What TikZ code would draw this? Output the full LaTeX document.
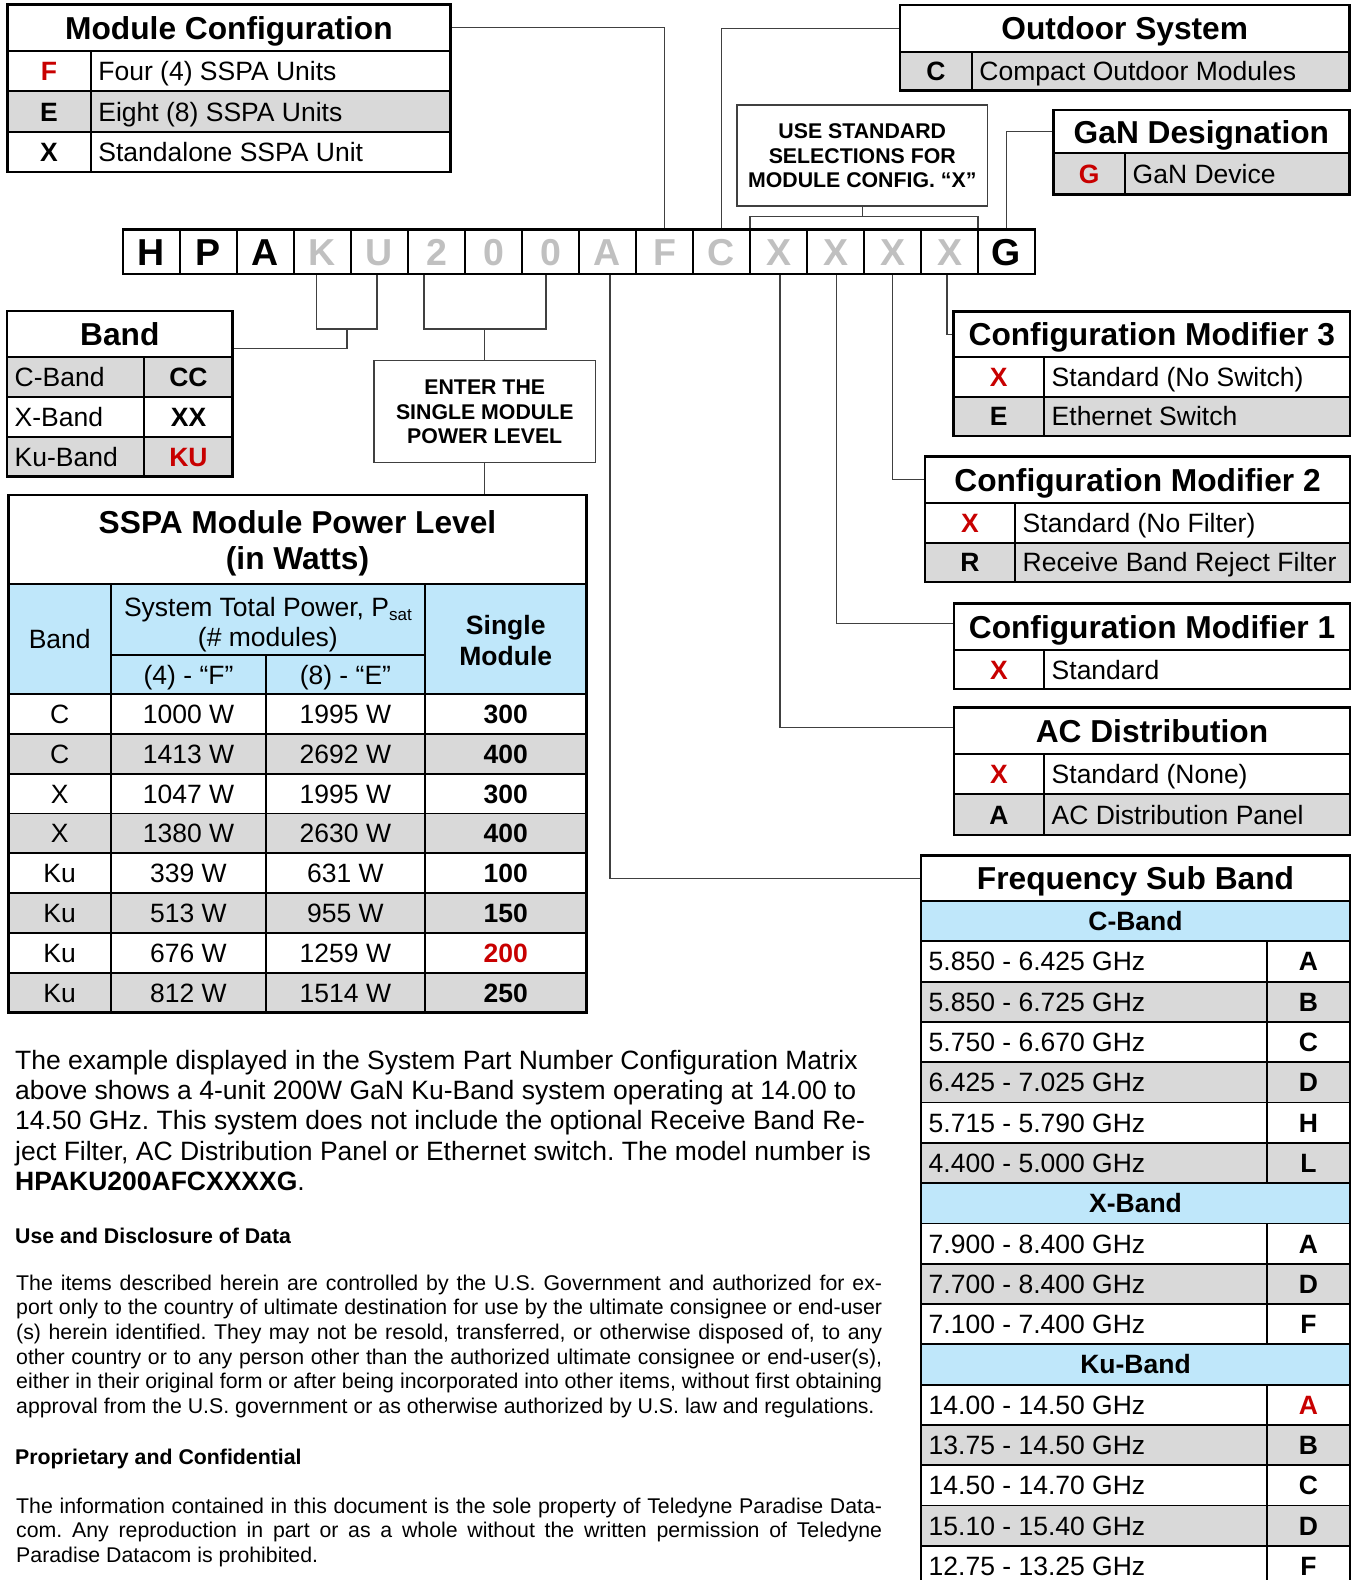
\documentclass[tikz,border=0pt]{standalone}
\usepackage{fontspec}
\setmainfont{Liberation Sans}
\usetikzlibrary{calc}
\pgfdeclarelayer{bg}
\pgfsetlayers{bg,main}
\frenchspacing
\definecolor{gr}{RGB}{217,217,217}
\definecolor{bl}{RGB}{191,231,250}
\definecolor{rd}{RGB}{200,0,0}
\definecolor{cg}{RGB}{192,192,192}
\definecolor{ln}{RGB}{64,64,64}
% cell: name, x1, y1, x2, y2, options, text
\newcommand\cellc[7]{\node[tcell,#6,minimum width={(#4)-(#2)},minimum height={(#5)-(#3)}] (#1) at ({((#2)+(#4))/2},{((#3)+(#5))/2}) {#7};}
\newcommand\ltxt[3]{\node[bdy,anchor=west] (#1) at ([xshift=7.5pt]#2.west) {#3};}
% two-column row: name, x1, xc, x2, y1, y2, fill, code, description
\newcommand\trow[9]{\cellc{#1a}{#2}{#5}{#3}{#6}{fill=#7,bd}{#8}\cellc{#1b}{#3}{#5}{#4}{#6}{fill=#7}{}\ltxt{#1t}{#1b}{#9}}
% band row: name, y1, y2, fill, band, code
\newcommand\brow[6]{\cellc{#1a}{7}{#2}{144.3}{#3}{fill=#4}{}\ltxt{#1t}{#1a}{#5}\cellc{#1b}{144.3}{#2}{232.7}{#3}{fill=#4,bd}{#6}}
% frequency rows
\newcommand\fhdr[2]{\pgfmathsetmacro\ya{901+40.3*(#1-1)}\pgfmathsetmacro\yb{\ya+40.3}\cellc{fh#1}{921}{\ya}{1350}{\yb}{fill=bl,bd}{#2}}
\newcommand\frow[4]{\pgfmathsetmacro\ya{901+40.3*(#1-1)}\pgfmathsetmacro\yb{\ya+40.3}\cellc{f#1a}{921}{\ya}{1266.7}{\yb}{fill=#4}{}\ltxt{f#1t}{f#1a}{#2}\cellc{f#1b}{1266.7}{\ya}{1350}{\yb}{fill=#4,bd}{#3}}
\begin{document}
\begin{tikzpicture}[x=1pt,y=-1pt,
 tcell/.style={draw=black,line width=1.8pt,inner sep=0pt,outer sep=0pt,font=\fontsize{26.5}{30}\selectfont,text height=19pt,text depth=0pt},
 ttl/.style={font=\bfseries\fontsize{31.7}{36}\selectfont,text height=22.7pt,text depth=0pt},
 bdy/.style={font=\fontsize{26.5}{30}\selectfont,text height=19pt,text depth=0pt,inner sep=0pt},
 bd/.style={font=\bfseries\fontsize{26.5}{30}\selectfont,text height=19pt,text depth=0pt},
 sml/.style={font=\bfseries\fontsize{21.3}{24}\selectfont,text height=15.25pt,text depth=0pt,inner sep=0pt},
 pncell/.style={draw=black,line width=2.2pt,minimum width=57pt,minimum height=44.7pt,inner sep=0pt,outer sep=0pt,font=\bfseries\fontsize{37.5}{40}\selectfont,text height=26.85pt,text depth=0pt},
 tblout/.style={draw=black,line width=2.8pt},
 conn/.style={draw=ln,line width=1.3pt},
 notebox/.style={draw=ln,line width=1.5pt,fill=white,inner sep=0pt,outer sep=0pt}]
\useasboundingbox (0,0) rectangle (1353,1580);
\clip (0,0) rectangle (1353,1580);
\begin{pgfonlayer}{bg}
\fill[white] (0,0) rectangle (1353,1580);
\end{pgfonlayer}

% ---------- Module Configuration
\cellc{mcT}{7.3}{4.7}{450.6}{50.7}{fill=white,ttl}{Module Configuration}
\trow{mc1}{7.3}{90.7}{450.6}{50.7}{91.3}{white}{\textcolor{rd}{F}}{Four (4) SSPA Units}
\trow{mc2}{7.3}{90.7}{450.6}{91.3}{131.7}{gr}{E}{Eight (8) SSPA Units}
\trow{mc3}{7.3}{90.7}{450.6}{131.7}{172}{white}{X}{Standalone SSPA Unit}
\draw[tblout] (mcT.north west) rectangle (mc3b.south east);

% ---------- Outdoor System
\cellc{osT}{900}{5}{1349.5}{51.7}{fill=white,ttl}{Outdoor System}
\trow{os1}{900}{971.7}{1349.5}{51.7}{90.5}{gr}{C}{Compact Outdoor Modules}
\draw[tblout] (osT.north west) rectangle (os1b.south east);

% ---------- GaN Designation
\cellc{ganT}{1053.3}{110}{1349.5}{153.3}{fill=white,ttl}{GaN Designation}
\trow{gan1}{1053.3}{1125}{1349.5}{153.3}{194.3}{gr}{\textcolor{rd}{G}}{GaN Device}
\draw[tblout] (ganT.north west) rectangle (gan1b.south east);

% ---------- Note: use standard selections
\node[notebox,minimum width=250.5pt,minimum height=101pt] (use) at (862.25,155.5) {};
\node[sml] (use1) at (862.25,131) {USE STANDARD};
\node[sml] (use2) at (862.25,155.5) {SELECTIONS FOR};
\node[sml] (use3) at (862.25,180) {MODULE CONFIG. “X”};

% ---------- Part number row
\foreach \ch/\cl [count=\i] in {H/black,P/black,A/black,K/cg,U/cg,2/cg,0/cg,0/cg,A/cg,F/cg,C/cg,X/cg,X/cg,X/cg,X/cg,G/black}
  \node[pncell,text=\cl] (c\i) at ({151.5+57*(\i-1)},251.65) {\ch};
\draw[tblout] (c1.north west) rectangle (c16.south east);

% ---------- Band
\cellc{bT}{7}{311}{232.7}{356.7}{fill=white,ttl}{Band}
\brow{b1}{356.7}{396.7}{gr}{C-Band}{CC}
\brow{b2}{396.7}{436.7}{white}{X-Band}{XX}
\brow{b3}{436.7}{476.7}{gr}{Ku-Band}{\textcolor{rd}{KU}}
\draw[tblout] (bT.north west) rectangle (b3b.south east);

% ---------- Note: enter power level
\node[notebox,minimum width=221.5pt,minimum height=102pt] (enter) at (484.75,411.7) {};
\node[sml] (ent1) at (484.75,387.2) {ENTER THE};
\node[sml] (ent2) at (484.75,411.7) {SINGLE MODULE};
\node[sml] (ent3) at (484.75,436.2) {POWER LEVEL};

% ---------- SSPA Module Power Level
\cellc{spT}{8.4}{495}{586.7}{584}{fill=white}{}
\node[ttl,inner sep=0pt] (spT1) at (297.5,522) {SSPA Module Power Level};
\node[ttl,inner sep=0pt] (spT2) at (297.5,558.5) {(in Watts)};
\cellc{spHb}{8.4}{584}{111}{694}{fill=bl}{Band}
\cellc{spHs}{111}{584}{424.8}{655}{fill=bl}{}
\node[bdy] (spHs1) at (267.9,607) {System Total Power, P\raisebox{-4pt}{\fontsize{17}{17}\selectfont sat}};
\node[bdy] (spHs2) at (267.9,637) {(\# modules)};
\cellc{spH4}{111}{655}{266}{694}{fill=bl}{(4) - “F”}
\cellc{spH8}{266}{655}{424.8}{694}{fill=bl}{(8) - “E”}
\cellc{spHm}{424.8}{584}{586.7}{694}{fill=bl}{}
\node[bd,inner sep=0pt] (spHm1) at (505.75,625) {Single};
\node[bd,inner sep=0pt] (spHm2) at (505.75,656) {Module};
\foreach \bb/\pp/\qq/\sm/\fc [count=\i] in {C/1000 W/1995 W/300/white,C/1413 W/2692 W/400/gr,X/1047 W/1995 W/300/white,X/1380 W/2630 W/400/gr,Ku/339 W/631 W/100/white,Ku/513 W/955 W/150/gr,Ku/676 W/1259 W/\textcolor{rd}{200}/white,Ku/812 W/1514 W/250/gr}{
  \pgfmathsetmacro\ya{694+39.8*(\i-1)}\pgfmathsetmacro\yb{\ya+39.8}
  \cellc{sa\i}{8.4}{\ya}{111}{\yb}{fill=\fc}{\bb}
  \cellc{sb\i}{111}{\ya}{266}{\yb}{fill=\fc}{\pp}
  \cellc{sc\i}{266}{\ya}{424.8}{\yb}{fill=\fc}{\qq}
  \cellc{sd\i}{424.8}{\ya}{586.7}{\yb}{fill=\fc,bd}{\sm}
}
\draw[tblout] (spT.north west) rectangle (sd8.south east);

% ---------- Configuration Modifier 3
\cellc{cmcT}{953.5}{311.7}{1350}{356.7}{fill=white,ttl}{Configuration Modifier 3}
\trow{cmc1}{953.5}{1044}{1350}{356.7}{396.7}{white}{\textcolor{rd}{X}}{Standard (No Switch)}
\trow{cmc2}{953.5}{1044}{1350}{396.7}{436}{gr}{E}{Ethernet Switch}
\draw[tblout] (cmcT.north west) rectangle (cmc2b.south east);

% ---------- Configuration Modifier 2
\cellc{cmbT}{925}{456.7}{1350}{502.7}{fill=white,ttl}{Configuration Modifier 2}
\trow{cmb1}{925}{1015}{1350}{502.7}{542.7}{white}{\textcolor{rd}{X}}{Standard (No Filter)}
\trow{cmb2}{925}{1015}{1350}{542.7}{582}{gr}{R}{Receive Band Reject Filter}
\draw[tblout] (cmbT.north west) rectangle (cmb2b.south east);

% ---------- Configuration Modifier 1
\cellc{cmaT}{954}{603.3}{1350}{650}{fill=white,ttl}{Configuration Modifier 1}
\trow{cma1}{954}{1044}{1350}{650}{689}{white}{\textcolor{rd}{X}}{Standard}
\draw[tblout] (cmaT.north west) rectangle (cma1b.south east);

% ---------- AC Distribution
\cellc{acT}{954}{707.7}{1350}{754.3}{fill=white,ttl}{AC Distribution}
\trow{ac1}{954}{1044}{1350}{754.3}{794.3}{white}{\textcolor{rd}{X}}{Standard (None)}
\trow{ac2}{954}{1044}{1350}{794.3}{835}{gr}{A}{AC Distribution Panel}
\draw[tblout] (acT.north west) rectangle (ac2b.south east);

% ---------- Frequency Sub Band
\cellc{fT}{921}{855.7}{1350}{901}{fill=white,ttl}{Frequency Sub Band}
\fhdr{1}{C-Band}
\frow{2}{5.850 - 6.425 GHz}{A}{white}
\frow{3}{5.850 - 6.725 GHz}{B}{gr}
\frow{4}{5.750 - 6.670 GHz}{C}{white}
\frow{5}{6.425 - 7.025 GHz}{D}{gr}
\frow{6}{5.715 - 5.790 GHz}{H}{white}
\frow{7}{4.400 - 5.000 GHz}{L}{gr}
\fhdr{8}{X-Band}
\frow{9}{7.900 - 8.400 GHz}{A}{white}
\frow{10}{7.700 - 8.400 GHz}{D}{gr}
\frow{11}{7.100 - 7.400 GHz}{F}{white}
\fhdr{12}{Ku-Band}
\frow{13}{14.00 - 14.50 GHz}{\textcolor{rd}{A}}{white}
\frow{14}{13.75 - 14.50 GHz}{B}{gr}
\frow{15}{14.50 - 14.70 GHz}{C}{white}
\frow{16}{15.10 - 15.40 GHz}{D}{gr}
\frow{17}{12.75 - 13.25 GHz}{F}{white}
\draw[tblout] (fT.north west) rectangle (f17b.south east);

% ---------- Connectors
\begin{pgfonlayer}{bg}
\draw[conn] (mcT.east) -| (c10.north);
\draw[conn] (osT.west) -| (c11.north);
\draw[conn] (ganT.west) -| (c16.north);
\coordinate (ub) at (862.25,216.7);
\draw[conn] (use.south) -- (ub);
\draw[conn] (c12.north west) |- (ub) -| (c15.north east);
\coordinate (kub) at (347,329);
\coordinate (bj) at (347,348.3);
\draw[conn] ([xshift=-6pt]c4.south) |- (kub) -| ([xshift=-2.5pt]c5.south);
\draw[conn] (kub) -- (bj) -- (bj -| bT.east);
\coordinate (pb) at (enter.north |- kub);
\draw[conn] ([xshift=-12.5pt]c6.south) |- (pb) -| ([xshift=-4.5pt]c8.south);
\draw[conn] (pb) -- (enter.north);
\draw[conn] (enter.south) -- (enter.south |- spT.north);
\draw[conn] ([xshift=2.5pt]c9.south) |- (fT.west);
\draw[conn] ([xshift=1.5pt]c12.south) |- ([yshift=3.5pt]acT.west);
\draw[conn] ([xshift=1pt]c13.south) |- ([yshift=3.3pt]cmaT.west);
\draw[conn] (c14.south) |- (cmbT.west);
\draw[conn] ([xshift=-2.5pt]c15.south) |- (cmcT.west);
\end{pgfonlayer}

% ---------- Text
\node[anchor=base west,inner sep=0pt] (para1) at (15,1069.5) {\begin{minipage}[t]{900pt}\fontsize{26.5}{30.2}\selectfont\raggedright
The example displayed in the System Part Number Configuration Matrix\\
above shows a 4-unit 200W GaN Ku-Band system operating at 14.00 to\\
14.50 GHz. This system does not include the optional Receive Band Re-\\
ject Filter, AC Distribution Panel or Ethernet switch. The model number is\\
\textbf{HPAKU200AFCXXXXG}.\end{minipage}};
\node[anchor=base west,inner sep=0pt,font=\bfseries\fontsize{21.3}{24}\selectfont] (head1) at (15,1243) {Use and Disclosure of Data};
\node[anchor=base west,inner sep=0pt] (para2) at (16,1290) {\begin{minipage}[t]{866pt}\fontsize{21.3}{24.67}\selectfont\hyphenpenalty=10000\tolerance=10000\hbadness=10000\emergencystretch=20pt
The items described herein are controlled by the U.S. Government and authorized for ex-\linebreak
port only to the country of ultimate destination for use by the ultimate consignee or end-user\linebreak
(s) herein identified. They may not be resold, transferred, or otherwise disposed of, to any\linebreak
other country or to any person other than the authorized ultimate consignee or end-user(s),\linebreak
either in their original form or after being incorporated into other items, without first obtaining\linebreak
approval from the U.S. government or as otherwise authorized by U.S. law and regulations.\end{minipage}};
\node[anchor=base west,inner sep=0pt,font=\bfseries\fontsize{21.3}{24}\selectfont] (head2) at (15,1464.3) {Proprietary and Confidential};
\node[anchor=base west,inner sep=0pt] (para3) at (16,1513.3) {\begin{minipage}[t]{866pt}\fontsize{21.3}{24.67}\selectfont\hyphenpenalty=10000\tolerance=10000\hbadness=10000\emergencystretch=20pt
The information contained in this document is the sole property of Teledyne Paradise Data-\linebreak
com. Any reproduction in part or as a whole without the written permission of Teledyne\linebreak
Paradise Datacom is prohibited.\end{minipage}};
\end{tikzpicture}
\end{document}
